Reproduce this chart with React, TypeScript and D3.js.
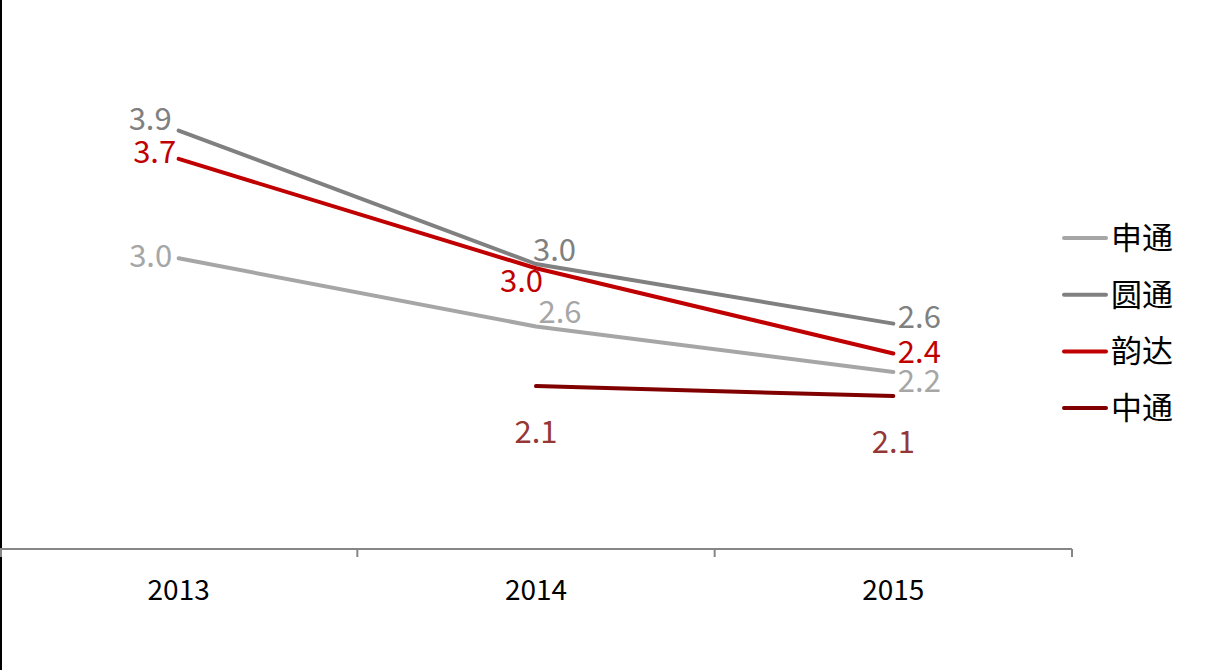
import React from "react";
import * as d3 from "d3";

const years = ["2013", "2014", "2015"];
const seriesNames = ["申通", "圆通", "韵达", "中通"];
const shentong = [3.04, 2.56, 2.24];
const yuantong = [3.94, 3.0, 2.58];
const yunda = [3.74, 2.97, 2.37];
const zhongtong = [null, 2.14, 2.07];

const seriesValues = [shentong, yuantong, yunda, zhongtong];
const lineColors = ["#A6A6A6", "#808080", "#C00000", "#800000"];
const labelColors = ["#A6A6A6", "#808080", "#C00000", "#953735"];
// label ink-centre offsets relative to each point (layout only)
const labelOffsets: [number, number][][] = [
  [[-28, -2.5], [24, -14.5], [26, 9]],
  [[-28.5, -12], [18.5, -14.5], [26, -7]],
  [[-24, -7], [-14.5, 12], [26, -2]],
  [[0, 0], [0, 45.5], [0, 45.5]],
];

const W = 1211;
const H = 670;
const FONT = "'Noto Sans CJK SC', 'Noto Sans', sans-serif";

export default function App() {
  const x = d3.scaleBand<string>().domain(years).range([0, 1072]).paddingInner(0).paddingOuter(0);
  const y = d3.scaleLinear().domain([1, 5]).range([548, -20]);
  const cx = (yr: string) => (x(yr) as number) + x.bandwidth() / 2;
  const axisY = 549;
  const tickXs = [0, ...years.map((yr) => (x(yr) as number) + x.bandwidth())];

  const line = d3
    .line<number | null>()
    .defined((d) => d != null)
    .x((_, i) => cx(years[i]))
    .y((d) => y(d as number));

  return (
    <svg width={W} height={H} style={{ position: "absolute", left: 0, top: 0, background: "#fff" }} fontFamily={FONT}>
      <rect x={0} y={0} width={W} height={H} fill="#fff" />
      <line x1={1} x2={1} y1={0} y2={H} stroke="#000" strokeWidth={2} />
      <line x1={0} x2={1072} y1={axisY} y2={axisY} stroke="#868686" strokeWidth={2} />
      {tickXs.map((tx, i) => (
        <line key={i} x1={Math.max(tx, 1)} x2={Math.max(tx, 1)} y1={axisY} y2={axisY + 8} stroke="#868686" strokeWidth={2} />
      ))}
      {years.map((yr) => (
        <text key={yr} x={cx(yr)} y={600} textAnchor="middle" fontSize={28} fill="#000">
          {yr}
        </text>
      ))}
      {seriesValues.map((vals, si) => (
        <path key={si} d={line(vals) || ""} fill="none" stroke={lineColors[si]} strokeWidth={4} strokeLinecap="round" strokeLinejoin="round" />
      ))}
      {seriesValues.map((vals, si) =>
        vals.map((v, i) => {
          if (v == null) return null;
          const [dx, dy] = labelOffsets[si][i];
          return (
            <text key={`${si}-${i}`} x={cx(years[i]) + dx} y={y(v) + dy + 11.5} textAnchor="middle" fontSize={31} fill={labelColors[si]}>
              {d3.format(".1f")(v)}
            </text>
          );
        })
      )}
      {seriesNames.map((name, i) => {
        const ly = 238 + i * 56.7;
        return (
          <g key={i}>
            <line x1={1064} x2={1106} y1={ly} y2={ly} stroke={lineColors[i]} strokeWidth={4} strokeLinecap="round" />
            <text x={1111} y={ly + 11} fontSize={31} fill="#000">
              {name}
            </text>
          </g>
        );
      })}
    </svg>
  );
}
